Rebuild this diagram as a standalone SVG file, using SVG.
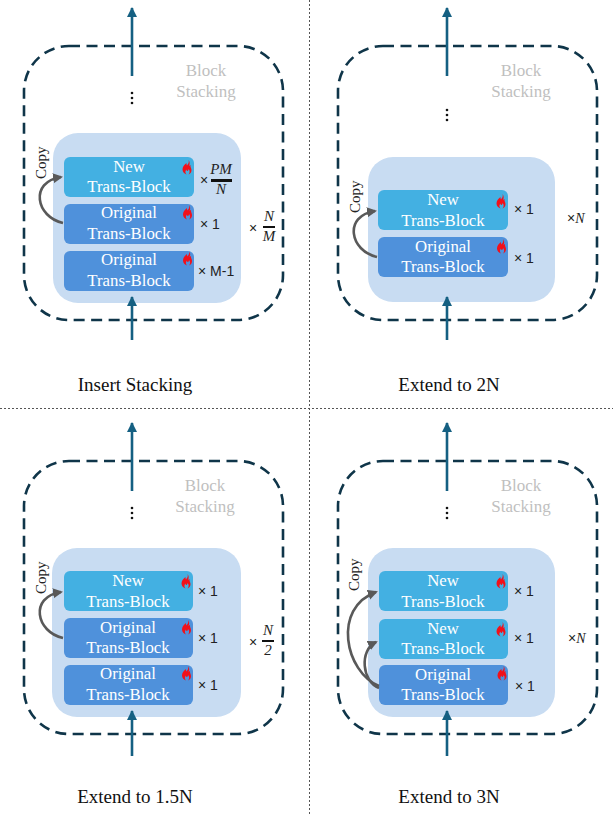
<svg xmlns="http://www.w3.org/2000/svg" width="613" height="815" viewBox="0 0 613 815">
<style>
text{font-family:"Liberation Serif","DejaVu Serif",serif;fill:#222}
.outer{fill:none;stroke:#0f3549;stroke-width:2.6;stroke-dasharray:11 6.5}
.inner{fill:#c8dcf2}
.new{fill:#43b0e2}
.orig{fill:#4f91db}
.bt{fill:#fff;font-size:16.8px;text-anchor:middle}
.flow{stroke:#156082;stroke-width:2.6;fill:none;marker-end:url(#up)}
.copy{stroke:#595959;stroke-width:2.6;fill:none;marker-end:url(#gr)}
.stack{fill:#bfbfbf;font-size:17px;text-anchor:middle}
.cap{font-size:19px;text-anchor:middle;fill:#111}
.m{font-size:14px;fill:#222;font-family:"Liberation Sans","DejaVu Sans",sans-serif}
.i{font-size:15px;font-style:italic;text-anchor:middle}
.cp{font-size:15px}
.div{stroke:#555;stroke-width:1;stroke-dasharray:2 2}
.dot{fill:#111}
</style>
<defs>
<marker id="up" markerUnits="userSpaceOnUse" markerWidth="12" markerHeight="12" refX="9" refY="5" orient="auto"><path d="M0 0L10 5L0 10Z" fill="#156082"/></marker>
<marker id="gr" markerUnits="userSpaceOnUse" markerWidth="12" markerHeight="12" refX="8" refY="5" orient="auto"><path d="M0 0L10 5L0 10Z" fill="#595959"/></marker>
<path id="fl" d="M1.500 -7C2.500 -4.500 1 -3 0 -1.500C-0.500 -2.500 -0.500 -3.500 -0.500 -4C-3 -2 -4.500 0 -4.500 2.500C-4.500 5 -2.500 7 -0.500 7.500C-2 6 -2 4 -0.500 2.500C-0.500 4 0.500 4.500 1 3.500C1.500 3 1.500 2.500 1.500 2C3 3.500 3 6 1.500 7.500C3.500 7 4.500 5 4.500 3C4.500 1 3 0 3.500 -2C2.500 -1.500 2 -1 2 -1C3 -3 3 -5 1.500 -7Z" fill="#f2101a"/>
<g id="dots"><circle cx="0" cy="0" r="1.300" class="dot"/><circle cx="0" cy="5" r="1.300" class="dot"/><circle cx="0" cy="10" r="1.300" class="dot"/></g>
</defs>

<g id="dividers">
<line class="div" x1="309.500" y1="0" x2="309.500" y2="815"/>
<line class="div" x1="0" y1="408.500" x2="613" y2="408.500"/>
</g>

<g id="panel-insert">
<rect class="outer" x="24" y="46" width="259" height="274" rx="45"/>
<rect class="inner" x="53" y="133" width="188" height="170" rx="25"/>
<text class="stack" x="206" y="76">Block</text><text class="stack" x="206" y="97">Stacking</text>
<use href="#dots" x="132" y="93"/>
<g id="n1"><rect class="new" x="64" y="157" width="130" height="40" rx="6"/><text class="bt" x="129" y="172">New</text><text class="bt" x="129" y="192">Trans-Block</text><use href="#fl" x="187" y="167"/></g>
<g id="n2"><rect class="orig" x="64" y="204" width="130" height="40" rx="6"/><text class="bt" x="129" y="218">Original</text><text class="bt" x="129" y="239">Trans-Block</text><use href="#fl" x="187.500" y="212"/></g>
<g id="n3"><rect class="orig" x="64" y="251" width="130" height="40" rx="6"/><text class="bt" x="129" y="265">Original</text><text class="bt" x="129" y="286">Trans-Block</text><use href="#fl" x="187.500" y="258"/></g>
<text class="cp" transform="translate(46 179) rotate(-90)">Copy</text>
<text class="m" x="200" y="185">×</text><text class="i" x="221" y="174">PM</text><rect x="211" y="179" width="21" height="3" fill="#111"/><text class="i" x="221" y="194">N</text>
<text class="m" x="200" y="229">× 1</text>
<text class="m" x="198" y="276">× M-1</text>
<text class="m" x="249" y="233">×</text><text class="i" x="269" y="221">N</text><rect x="263" y="226" width="12" height="2" fill="#111"/><text class="i" x="269" y="241">M</text>
<text class="cap" x="135" y="391">Insert Stacking</text>
</g>

<g id="panel-2n">
<rect class="outer" x="338" y="46" width="259" height="274" rx="45"/>
<rect class="inner" x="368" y="157" width="187" height="145" rx="25"/>
<text class="stack" x="521" y="76">Block</text><text class="stack" x="521" y="97">Stacking</text>
<use href="#dots" x="447" y="110"/>
<g id="n4"><rect class="new" x="378" y="190" width="130" height="40" rx="6"/><text class="bt" x="443" y="205">New</text><text class="bt" x="443" y="226">Trans-Block</text><use href="#fl" x="501" y="201"/></g>
<g id="n5"><rect class="orig" x="378" y="237" width="130" height="40" rx="6"/><text class="bt" x="443" y="252">Original</text><text class="bt" x="443" y="272">Trans-Block</text><use href="#fl" x="501.500" y="246"/></g>
<text class="cp" transform="translate(360 213) rotate(-90)">Copy</text>
<text class="m" x="514" y="214">× 1</text>
<text class="m" x="514" y="263">× 1</text>
<text class="m" x="567" y="223">×<tspan font-style="italic" font-family="Liberation Serif">N</tspan></text>
<text class="cap" x="449" y="391">Extend to 2N</text>
</g>

<g id="panel-1-5n">
<rect class="outer" x="24" y="461" width="259" height="273" rx="45"/>
<rect class="inner" x="52" y="548" width="189" height="169" rx="25"/>
<text class="stack" x="205" y="491">Block</text><text class="stack" x="205" y="512">Stacking</text>
<use href="#dots" x="132" y="508"/>
<g id="n6"><rect class="new" x="64" y="571" width="129" height="40" rx="6"/><text class="bt" x="128" y="586">New</text><text class="bt" x="128" y="607">Trans-Block</text><use href="#fl" x="186" y="581"/></g>
<g id="n7"><rect class="orig" x="64" y="618" width="129" height="40" rx="6"/><text class="bt" x="128" y="633">Original</text><text class="bt" x="128" y="653">Trans-Block</text><use href="#fl" x="186.500" y="627"/></g>
<g id="n8"><rect class="orig" x="64" y="665" width="129" height="40" rx="6"/><text class="bt" x="128" y="679">Original</text><text class="bt" x="128" y="700">Trans-Block</text><use href="#fl" x="186.500" y="673"/></g>
<text class="cp" transform="translate(46 594) rotate(-90)">Copy</text>
<text class="m" x="198" y="596">× 1</text>
<text class="m" x="198" y="643">× 1</text>
<text class="m" x="198" y="690">× 1</text>
<text class="m" x="249" y="647">×</text><text class="i" x="268" y="635">N</text><rect x="262" y="640" width="12" height="2" fill="#111"/><text class="i" x="268" y="655">2</text>
<text class="cap" x="135" y="803">Extend to 1.5N</text>
</g>

<g id="panel-3n">
<rect class="outer" x="338" y="461" width="259" height="273" rx="45"/>
<rect class="inner" x="368" y="548" width="187" height="169" rx="25"/>
<text class="stack" x="521" y="491">Block</text><text class="stack" x="521" y="512">Stacking</text>
<use href="#dots" x="447" y="508"/>
<g id="n9"><rect class="new" x="379" y="571" width="129" height="40" rx="6"/><text class="bt" x="443" y="586">New</text><text class="bt" x="443" y="607">Trans-Block</text><use href="#fl" x="501" y="581"/></g>
<g id="n10"><rect class="new" x="379" y="619" width="129" height="40" rx="6"/><text class="bt" x="443" y="634">New</text><text class="bt" x="443" y="654">Trans-Block</text><use href="#fl" x="501" y="629"/></g>
<g id="n11"><rect class="orig" x="379" y="665" width="129" height="40" rx="6"/><text class="bt" x="443" y="680">Original</text><text class="bt" x="443" y="700">Trans-Block</text><use href="#fl" x="502" y="673"/></g>
<text class="cp" transform="translate(359 591) rotate(-90)">Copy</text>
<text class="m" x="514" y="596">× 1</text>
<text class="m" x="514" y="643">× 1</text>
<text class="m" x="515" y="691">× 1</text>
<text class="m" x="568" y="643">×<tspan font-style="italic" font-family="Liberation Serif">N</tspan></text>
<text class="cap" x="449" y="803">Extend to 3N</text>
</g>

<g id="connectors">
<path class="flow" d="M132 76V8"/><path class="flow" d="M132 340V297"/>
<path class="flow" d="M447 76V8"/><path class="flow" d="M447 340V297"/>
<path class="flow" d="M132 491V423"/><path class="flow" d="M132 756V711"/>
<path class="flow" d="M447 491V423"/><path class="flow" d="M447 756V711"/>
<path class="copy" d="M63 223C36 217 29 182 61 177"/>
<path class="copy" d="M377 257C350 251 343 216 375 211"/>
<path class="copy" d="M63 638C36 632 29 597 61 592"/>
<path class="copy" d="M379 686C345 672 332 608 376 592"/>
<path class="copy" d="M379 688C362 682 359 650 376 642"/>
</g>
</svg>
